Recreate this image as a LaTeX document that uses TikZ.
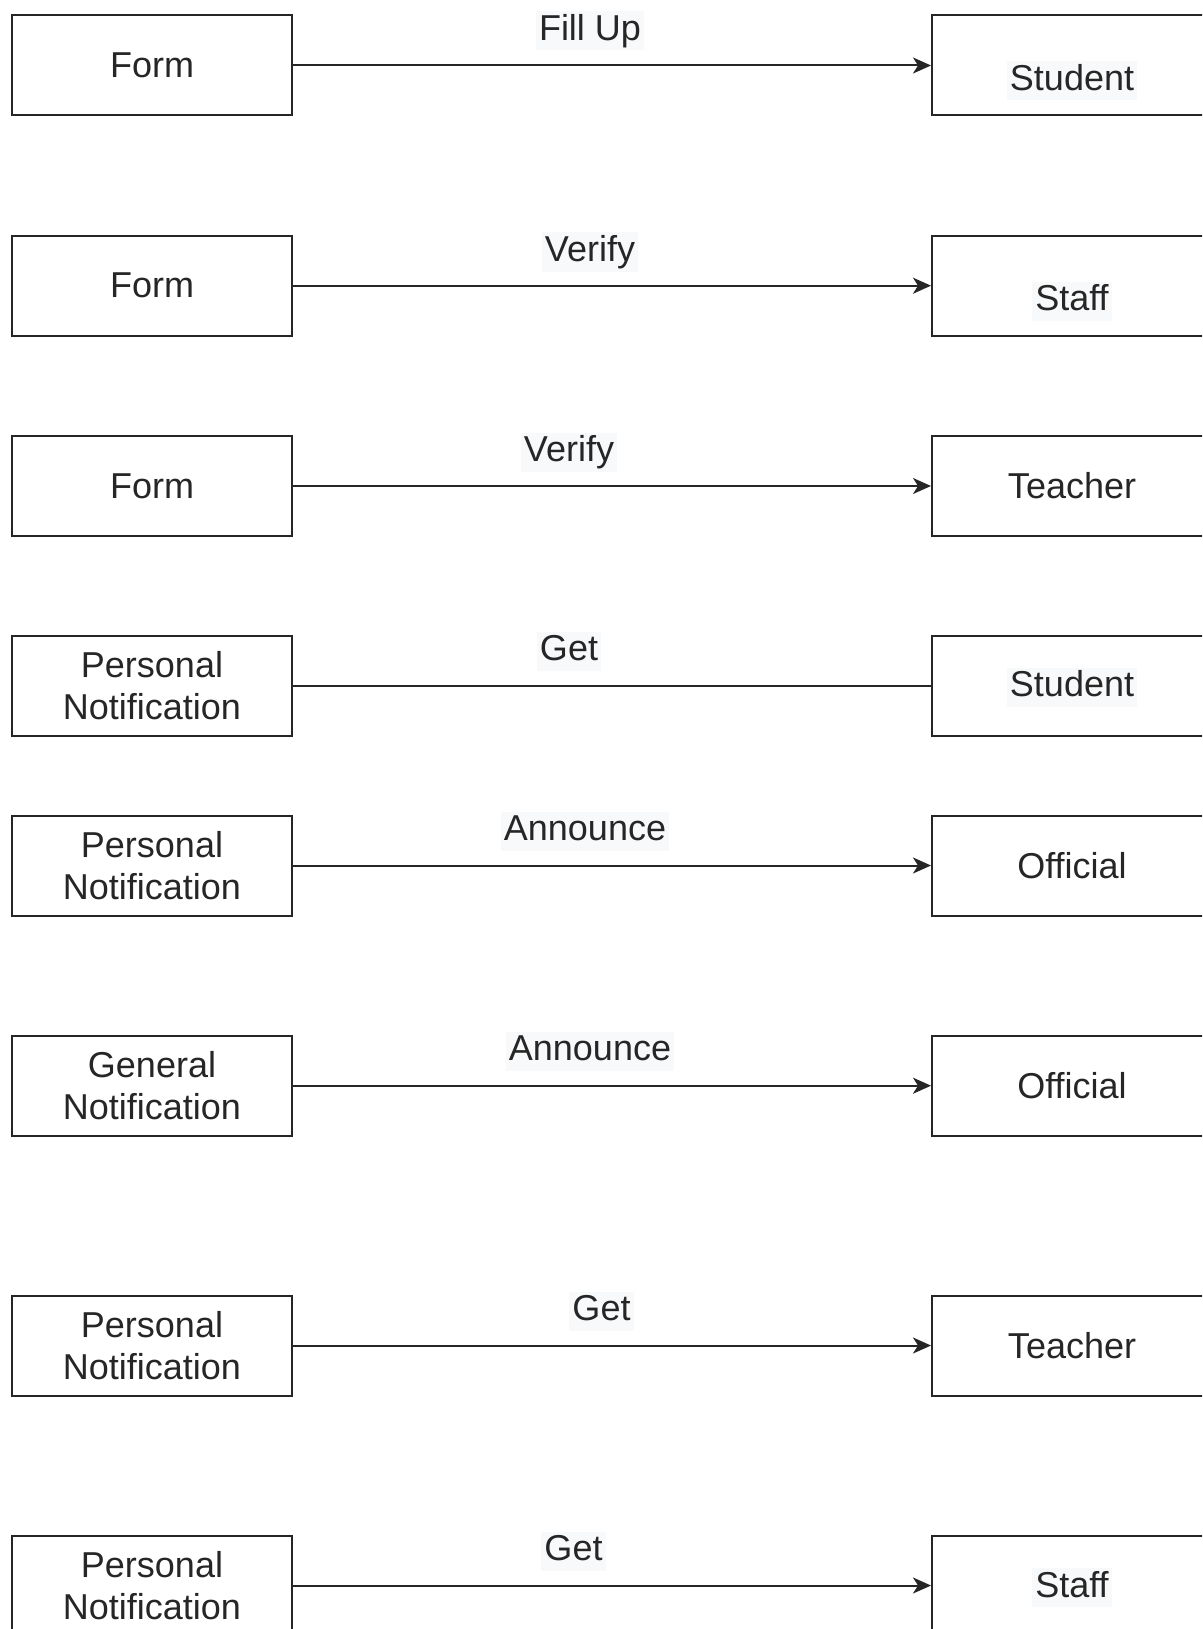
\documentclass[tikz,border=0pt]{standalone}
\usepackage{fontspec}
\setmainfont{Liberation Sans}
\usetikzlibrary{arrows.meta}
\definecolor{ink}{HTML}{262626}
\definecolor{labelbg}{HTML}{F8F9FA}
\begin{document}
\begin{tikzpicture}[x=1pt,y=-1pt,
  every node/.style={font=\fontsize{36}{42}\selectfont, text=ink},
  entity/.style={draw=ink, line width=2pt, fill=white, minimum width=280pt,
    minimum height=100pt, inner sep=0pt, align=center},
  caption/.style={fill=labelbg, inner xsep=3pt, inner ysep=2pt,
    text height=27pt, text depth=8pt},
  plain/.style={inner sep=0pt},
  link/.style={draw=ink, line width=2pt},
  flow/.style={link, -{Stealth[length=18pt,width=16pt,inset=5pt]}}]
\useasboundingbox (0,0) rectangle (1202,1629);
\clip (0,0) rectangle (1202,1629);

% left column boxes
\node[entity] (l1) at (152,65.5)   {Form};
\node[entity] (l2) at (152,285.7)  {Form};
\node[entity] (l3) at (152,486)    {Form};
\node[entity] (l4) at (152,685.7)  {Personal\\Notification};
\node[entity] (l5) at (152,865.5)  {Personal\\Notification};
\node[entity] (l6) at (152,1085.7) {General\\Notification};
\node[entity] (l7) at (152,1345.5) {Personal\\Notification};
\node[entity] (l8) at (152,1585.5) {Personal\\Notification};

% right column boxes
\node[entity] (r1) at (1072,65.5)   {};
\node[entity] (r2) at (1072,285.7)  {};
\node[entity] (r3) at (1072,486)    {};
\node[entity] (r4) at (1072,685.7)  {};
\node[entity] (r5) at (1072,865.5)  {};
\node[entity] (r6) at (1072,1085.7) {};
\node[entity] (r7) at (1072,1345.5) {};
\node[entity] (r8) at (1072,1585.5) {};

% right box captions
\node[caption] (t1) at (1072,81)     {Student};
\node[caption] (t2) at (1072,301)    {Staff};
\node[plain]   (t3) at (1072,486)    {Teacher};
\node[caption] (t4) at (1072,687)    {Student};
\node[plain]   (t5) at (1072,865.5)  {Official};
\node[plain]   (t6) at (1072,1085.7) {Official};
\node[plain]   (t7) at (1072,1345.5) {Teacher};
\node[caption] (t8) at (1072,1587.5) {Staff};

% connectors
\draw[flow] (l1) -- (r1);
\draw[flow] (l2) -- (r2);
\draw[flow] (l3) -- (r3);
\draw[link] (l4) -- (r4);
\draw[flow] (l5) -- (r5);
\draw[flow] (l6) -- (r6);
\draw[flow] (l7) -- (r7);
\draw[flow] (l8) -- (r8);

% connector labels
\node[caption] (e1) at (590,31)     {Fill Up};
\node[caption] (e2) at (590,252)    {Verify};
\node[caption] (e3) at (569,452)    {Verify};
\node[caption] (e4) at (569,651)    {Get};
\node[caption] (e5) at (585,831)    {Announce};
\node[caption] (e6) at (590,1051)   {Announce};
\node[caption] (e7) at (601.5,1311) {Get};
\node[caption] (e8) at (573.5,1551) {Get};
\end{tikzpicture}
\end{document}
